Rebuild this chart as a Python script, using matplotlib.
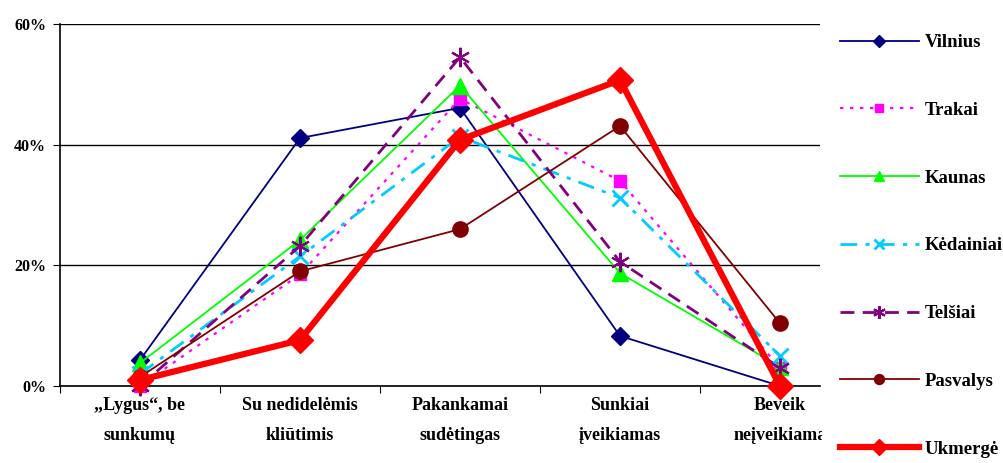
import matplotlib.pyplot as plt
from matplotlib.patches import Rectangle

# kategorijos ir reikšmės (%)
categories = ['„Lygus“, be\nsunkumų', 'Su nedidelėmis\nkliūtimis', 'Pakankamai\nsudėtingas',
              'Sunkiai\nįveikiamas', 'Beveik\nneįveikiama']
cities = ['Vilnius', 'Trakai', 'Kaunas', 'Kėdainiai', 'Telšiai', 'Pasvalys', 'Ukmergė']
vilnius = [4.3, 41.1, 46.1, 8.3, 0.0]
trakai = [0.0, 18.5, 47.6, 34.0, 3.0]
kaunas = [3.8, 24.2, 49.8, 18.7, 3.2]
kedainiai = [2.0, 21.5, 41.3, 31.2, 5.0]
telsiai = [0.0, 23.2, 54.5, 20.6, 3.0]
pasvalys = [1.5, 19.0, 26.0, 43.1, 10.4]
ukmerge = [1.0, 7.6, 40.8, 50.7, 0.0]
y_ticks = [0, 20, 40, 60]

series = [vilnius, trakai, kaunas, kedainiai, telsiai, pasvalys, ukmerge]
styles = [
    dict(color='#000080', ls='-', lw=1.3, marker='D', ms=9),
    dict(color='#FF00FF', ls=(0, (1.5, 3)), lw=1.6, marker='s', ms=9),
    dict(color='#00FF00', ls='-', lw=1.3, marker='^', ms=11),
    dict(color='#00CCFF', ls=(0, (6, 3, 1.5, 3)), lw=2.0, marker='x', ms=11, mew=2),
    dict(color='#800080', ls=(0, (5, 3)), lw=2.0, marker=(6, 2, 0), ms=14, mew=1.5),
    dict(color='#800000', ls='-', lw=1.3, marker='o', ms=11),
    dict(color='#FF0000', ls='-', lw=4.5, marker='D', ms=13),
]

plt.rcParams['font.family'] = ['Liberation Serif', 'DejaVu Serif']
plt.rcParams['font.weight'] = 'bold'

fig = plt.figure(figsize=(10.04, 4.63), dpi=100)
ax = fig.add_axes([60 / 1004, 1 - 386 / 463, 760 / 1004, 362 / 463])

x = list(range(len(categories)))
for name, vals, st in zip(cities, series, styles):
    ax.plot(x, vals, label=name, clip_on=False, zorder=3, **st)

ax.set_xlim(-0.5, 4.25)
ax.set_ylim(0, 60)
ax.set_yticks(y_ticks)
ax.set_yticklabels([f'{v}%' for v in y_ticks], fontsize=11.5, fontweight='bold')
ax.yaxis.grid(True, color='black', lw=1)
ax.set_axisbelow(True)

ax.set_xticks([-0.5, 0.5, 1.5, 2.5, 3.5])
ax.set_xticklabels([])
ax.set_xticks(x, minor=True)
ax.set_xticklabels(categories, minor=True, fontsize=13, fontweight='bold', linespacing=2.0)
ax.tick_params(axis='x', which='minor', length=0, pad=8)
ax.tick_params(axis='x', which='major', length=5, direction='out')
ax.tick_params(axis='y', length=5, direction='out', pad=5)

for s in ['top', 'right']:
    ax.spines[s].set_visible(False)
ax.spines['left'].set_linewidth(1.2)
ax.spines['bottom'].set_linewidth(1.2)

# baltas fonas legendai
fig.add_artist(Rectangle((822 / 1004, 0), 1 - 822 / 1004, 1, transform=fig.transFigure,
                         facecolor='white', edgecolor='none', zorder=5))

leg = fig.legend(loc='upper left', bbox_to_anchor=(840 / 1004, 1 - 34 / 463),
                 frameon=False, fontsize=13.5, handlelength=4.2, handletextpad=0.3,
                 labelspacing=2.7, borderpad=0, borderaxespad=0, markerscale=0.65)
leg.set_zorder(6)
for t in leg.get_texts():
    t.set_fontweight('bold')

fig.savefig('out.png', dpi=100)
